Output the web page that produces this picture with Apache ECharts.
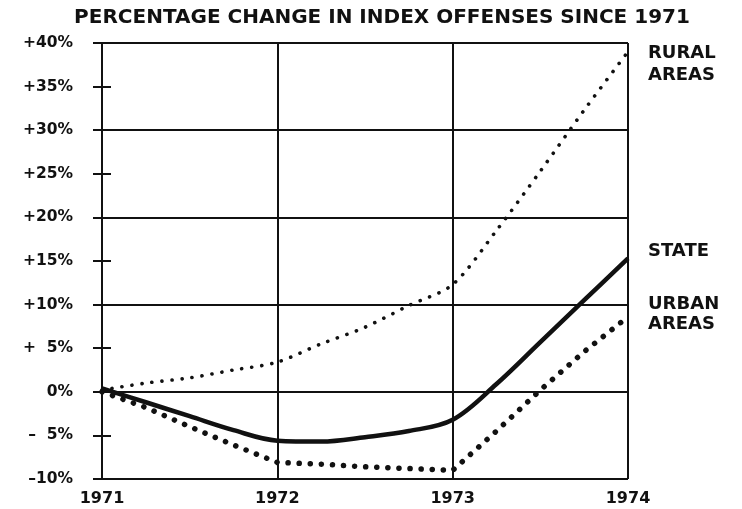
<!DOCTYPE html>
<html>
<head>
<meta charset="utf-8">
<script src="https://cdn.jsdelivr.net/npm/echarts@6/dist/echarts.min.js"></script>
<style>
  html, body { margin: 0; padding: 0; background: #fff; }
  #chart { width: 742px; height: 509px; }
</style>
</head>
<body>
<div id="chart"></div>
<script>
// values, quarter-year steps
var years = [1971, 1971.25, 1971.5, 1971.75, 1972, 1972.25, 1972.5, 1972.75, 1973, 1973.25, 1973.5, 1973.75, 1974];
var stateVals = [0.4, -1.2, -2.8, -4.4, -5.6, -5.7, -5.2, -4.5, -3.2, 0.9, 5.7, 10.5, 15.3];
var ruralVals = [0.2, 1.0, 1.6, 2.5, 3.4, 5.5, 7.4, 9.9, 12.3, 18.5, 25.3, 32.3, 39.0];
var urbanVals = [0.0, -1.8, -4.0, -6.1, -8.1, -8.3, -8.6, -8.8, -9.0, -4.5, 0.2, 4.6, 8.6];
var yearTicks = ['1971', '1972', '1973', '1974'];
var yTickLabels = {
    '-10': '\u201310%', '-5': '\u2013\u20075%', '0': '0%', '5': '+\u20075%',
    '10': '+10%', '15': '+15%', '20': '+20%', '25': '+25%',
    '30': '+30%', '35': '+35%', '40': '+40%'
};

var ink = '#111';
var font = '"DejaVu Sans", Verdana, sans-serif';

function pairs(vals){
    return years.map(function(y, i){ return [y, vals[i]]; });
}

var chart = echarts.init(document.getElementById('chart'), null, {renderer: 'canvas'});

var option = {
    animation: false,
    backgroundColor: '#fff',
    title: {
        text: 'PERCENTAGE CHANGE IN INDEX OFFENSES SINCE 1971',
        left: 377,
        top: 3,
        textAlign: 'center',
        textStyle: {fontFamily: font, fontSize: 20, fontWeight: 'bold', color: ink}
    },
    grid: {left: 102, right: 114, top: 43, bottom: 30, containLabel: false},
    xAxis: {
        type: 'value',
        min: 1971, max: 1974, interval: 1,
        axisLine: {show: true, lineStyle: {color: ink, width: 2}},
        axisTick: {show: false},
        splitLine: {show: true, lineStyle: {color: ink, width: 2}},
        axisLabel: {
            color: ink, fontFamily: font, fontSize: 16, fontWeight: 'bold', margin: 12,
            formatter: function(v){ return yearTicks[Math.round(v - 1971)]; }
        }
    },
    yAxis: [
        {   // labels, left axis line, outer half of ticks
            type: 'value', min: -10, max: 40, interval: 5,
            axisLine: {show: true, lineStyle: {color: ink, width: 2}},
            axisTick: {show: true, length: 9, lineStyle: {color: ink, width: 2}},
            splitLine: {show: false},
            axisLabel: {
                color: ink, fontFamily: font, fontSize: 15.5, fontWeight: 'bold', margin: 29,
                formatter: function(v){ return yTickLabels[String(v)]; }
            }
        },
        {   // full grid lines every 10%
            type: 'value', min: -10, max: 40, interval: 10,
            axisLine: {show: false}, axisTick: {show: false}, axisLabel: {show: false},
            splitLine: {show: true, lineStyle: {color: ink, width: 2}}
        },
        {   // inner half of ticks
            type: 'value', min: -10, max: 40, interval: 5, position: 'left',
            axisLine: {show: false}, axisLabel: {show: false}, splitLine: {show: false},
            axisTick: {show: true, inside: true, length: 9, lineStyle: {color: ink, width: 2}}
        }
    ],
    series: [
        {
            name: 'RURAL AREAS', type: 'line', data: pairs(ruralVals),
            smooth: 0.3, showSymbol: false,
            lineStyle: {color: ink, width: 3.6, type: [0.1, 10], cap: 'round'}
        },
        {
            name: 'URBAN AREAS', type: 'line', data: pairs(urbanVals),
            smooth: false, showSymbol: false,
            lineStyle: {color: ink, width: 5.5, type: [0.1, 11], cap: 'round'}
        },
        {
            name: 'STATE', type: 'line', data: pairs(stateVals),
            smooth: 0.35, showSymbol: false,
            lineStyle: {color: ink, width: 4.5}
        }
    ],
    graphic: [
        {type: 'text', left: 648, top: 42, style: {text: 'RURAL\nAREAS', fill: ink, font: 'bold 18px ' + font, lineHeight: 22}},
        {type: 'text', left: 648, top: 242, style: {text: 'STATE', fill: ink, font: 'bold 18px ' + font}},
        {type: 'text', left: 648, top: 294, style: {text: 'URBAN\nAREAS', fill: ink, font: 'bold 18px ' + font, lineHeight: 20}}
    ]
};

chart.setOption(option);
</script>
</body>
</html>
